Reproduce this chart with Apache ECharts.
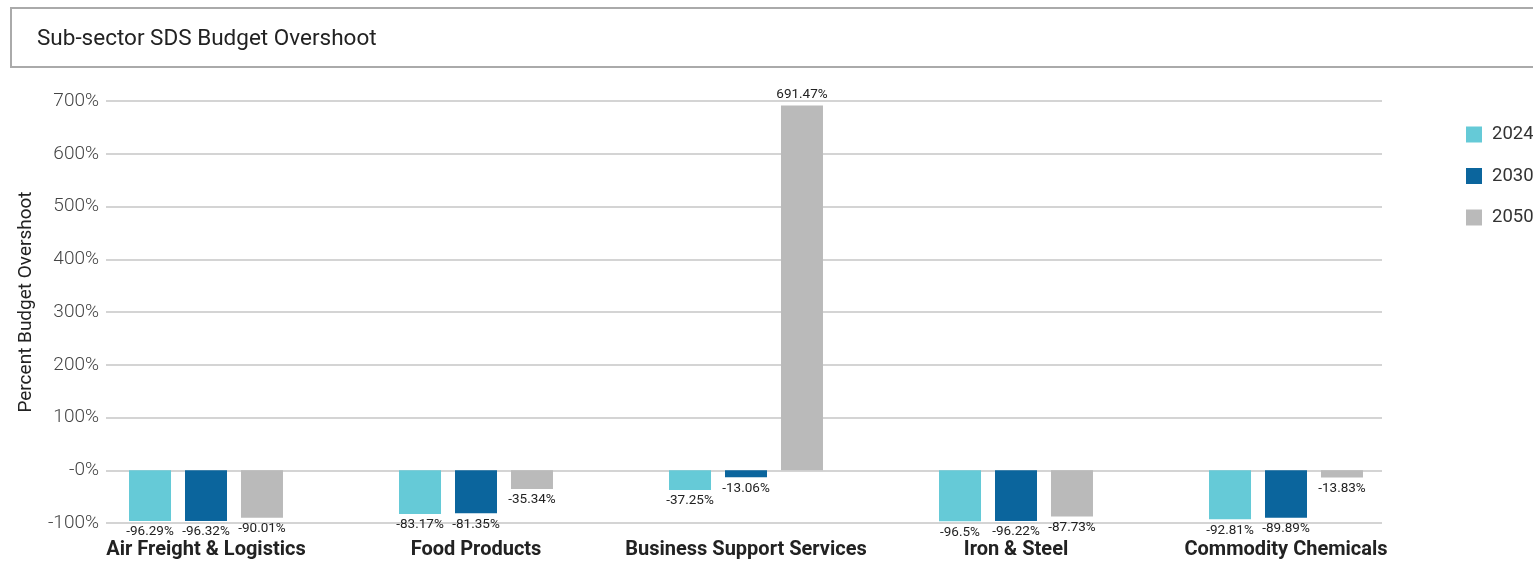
<!DOCTYPE html>
<html>
<head>
<meta charset="utf-8">
<script src="https://cdn.jsdelivr.net/npm/echarts@6/dist/echarts.min.js"></script>
<style>
html,body{margin:0;padding:0;background:#fff;}
#chart{width:1533px;height:561px;}
</style>
</head>
<body>
<div id="chart"></div>
<script>
var categories = ['Air Freight & Logistics', 'Food Products', 'Business Support Services', 'Iron & Steel', 'Commodity Chemicals'];
var seriesNames = ['2024', '2030', '2050'];
var values2024 = [-96.29, -83.17, -37.25, -96.5, -92.81];
var values2030 = [-96.32, -81.35, -13.06, -96.22, -89.89];
var values2050 = [-90.01, -35.34, 691.47, -87.73, -13.83];
var yTickLabels = ['-100%', '-0%', '100%', '200%', '300%', '400%', '500%', '600%', '700%'];
var colors = ['#65cad7', '#0b659d', '#bababa'];

var chart = echarts.init(document.getElementById('chart'), null, {renderer: 'canvas'});
var FONT = 'Roboto';

function barSeries(name, data, color) {
  return {
    name: name,
    type: 'bar',
    xAxisIndex: 1,
    yAxisIndex: 1,
    data: data,
    barWidth: 42,
    barGap: '33.3%',
    itemStyle: {color: color},
    label: {
      show: true,
      position: 'outside',
      distance: 4,
      fontFamily: FONT,
      fontSize: 13.5,
      color: '#222',
      formatter: function (p) { return p.value + '%'; }
    }
  };
}

chart.setOption({
  animation: false,
  title: {
    text: 'Sub-sector SDS Budget Overshoot',
    left: 37,
    top: 28,
    padding: 0,
    textStyle: {fontFamily: FONT, fontSize: 22.5, fontWeight: 'normal', color: '#222'}
  },
  graphic: [{
    type: 'rect',
    shape: {x: 11, y: 8, width: 1600, height: 59},
    style: {fill: 'transparent', stroke: '#aaaaaa', lineWidth: 2},
    silent: true
  }],
  legend: {
    data: seriesNames,
    orient: 'vertical',
    left: 1466,
    top: 125,
    padding: 0,
    itemWidth: 16,
    itemHeight: 16,
    itemGap: 22.5,
    icon: 'rect',
    textStyle: {fontFamily: FONT, fontSize: 18.5, color: '#333', padding: [0, 0, 0, 5]}
  },
  grid: [
    {left: 106, right: 151, top: 101, bottom: 38},
    {left: 71, right: 112, top: 101, bottom: 38}
  ],
  xAxis: [
    {type: 'category', gridIndex: 0, data: categories, show: false},
    {
      type: 'category', gridIndex: 1, data: categories,
      axisLine: {show: false}, axisTick: {show: false},
      axisLabel: {fontFamily: FONT, fontSize: 20, fontWeight: 'bold', color: '#222', margin: 17, interval: 0}
    }
  ],
  yAxis: [
    {
      type: 'value', gridIndex: 0, min: -100, max: 700, interval: 100,
      name: 'Percent Budget Overshoot',
      nameLocation: 'middle',
      nameGap: 70,
      nameTextStyle: {fontFamily: FONT, fontSize: 19, color: '#222', padding: [0, 0, 0, 20]},
      axisLine: {show: false}, axisTick: {show: false},
      axisLabel: {
        fontFamily: FONT, fontSize: 19, fontWeight: 300, color: '#444', margin: 7,
        formatter: function (v) { return yTickLabels[Math.round((v + 100) / 100)]; }
      },
      splitLine: {lineStyle: {color: '#d4d4d4', width: 2}}
    },
    {type: 'value', gridIndex: 1, min: -100, max: 700, interval: 100, show: false, splitLine: {show: false}}
  ],
  series: [
    barSeries(seriesNames[0], values2024, colors[0]),
    barSeries(seriesNames[1], values2030, colors[1]),
    barSeries(seriesNames[2], values2050, colors[2])
  ]
});
</script>
</body>
</html>
